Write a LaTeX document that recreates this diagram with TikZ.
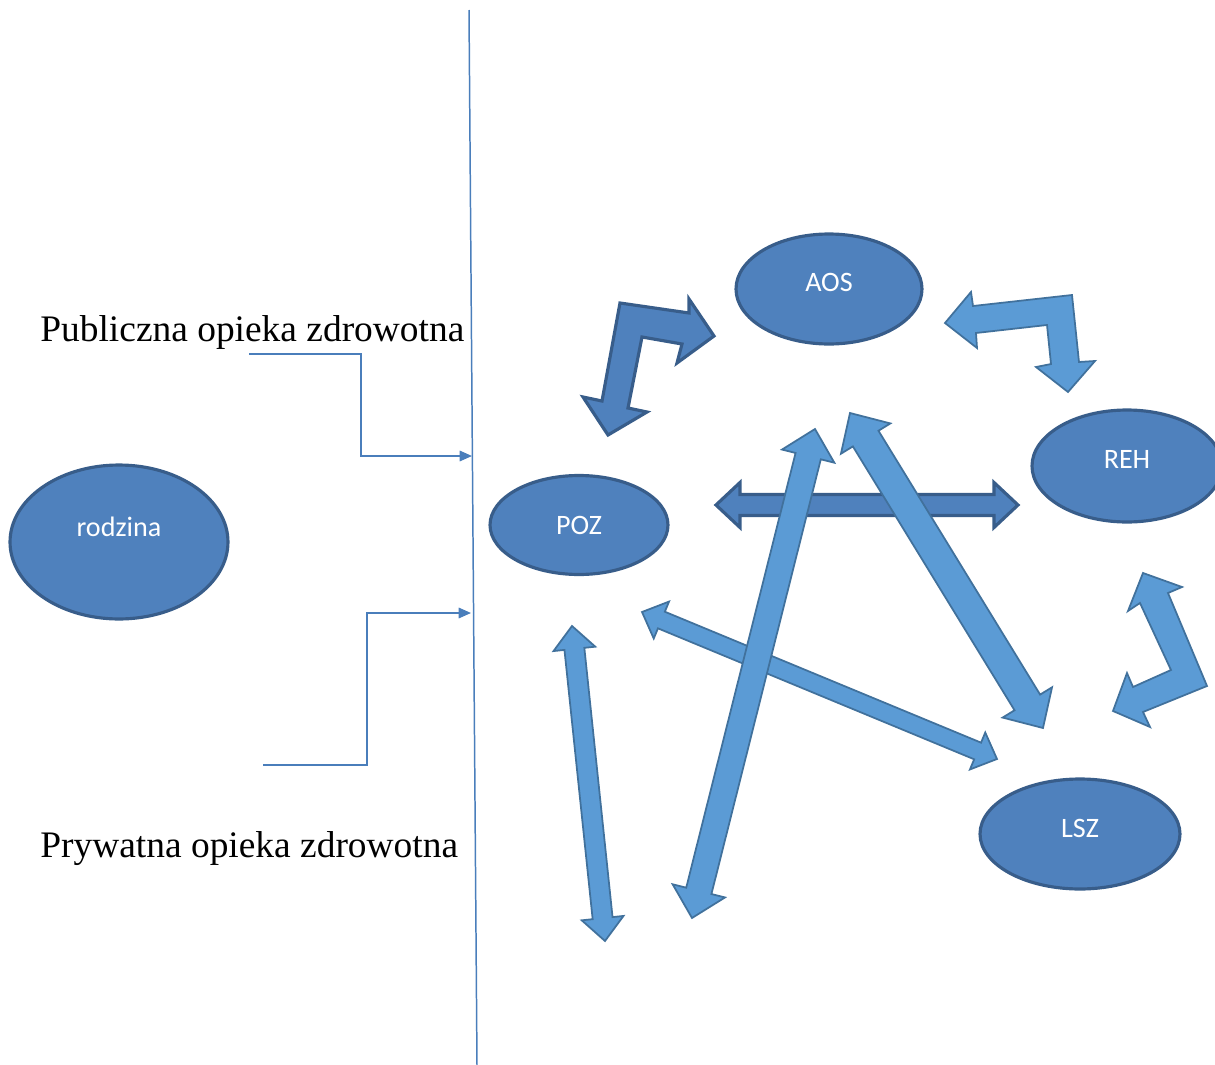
\documentclass[tikz,border=0pt]{standalone}
\usepackage{fontspec}
\setmainfont{Liberation Serif}
\newfontfamily\unitfont{Carlito}
\usetikzlibrary{calc}
\usetikzlibrary{shapes.geometric}
\usetikzlibrary{arrows.meta}
\definecolor{unitfill}{HTML}{4F81BD}
\definecolor{unitline}{HTML}{385D8A}
\definecolor{arrowfill}{HTML}{5B9BD5}
\definecolor{arrowline}{HTML}{41719C}
\definecolor{divline}{HTML}{4A7EBB}
\tikzset{%
    unit/.style={shape=ellipse,inner sep=0pt,outer sep=0pt,draw=unitline,fill=unitfill,line width=1.8pt,text=white,font=\unitfont\fontsize{16}{19}\selectfont},
    light arrow/.style={draw=arrowline,fill=arrowfill,line width=1pt,line join=miter},
    dark arrow/.style={draw=unitline,fill=unitfill,line width=1.8pt,line join=miter},
    divider/.style={draw=divline,line width=0.85pt},
    sector link/.style={draw=divline,line width=0.85pt,-{Triangle[length=7pt,width=6pt]}},
    sector label/.style={anchor=base west,inner sep=0pt,font=\fontsize{21.3}{25}\selectfont},
}
% #2,#3 tips, #4 half shaft, #5 half head, #6 head length
\newcommand{\dblarrow}[6][light arrow]{%
    \draw[#1] ($(#2)!#6!(#3)!#4!90:(#3)$) -- ($(#2)!#6!(#3)!#5!90:(#3)$) -- (#2)
        -- ($(#2)!#6!(#3)!#5!-90:(#3)$) -- ($(#2)!#6!(#3)!#4!-90:(#3)$)
        -- ($(#3)!#6!(#2)!#4!90:(#2)$) -- ($(#3)!#6!(#2)!#5!90:(#2)$) -- (#3)
        -- ($(#3)!#6!(#2)!#5!-90:(#2)$) -- ($(#3)!#6!(#2)!#4!-90:(#2)$) -- cycle;}

\begin{document}
\begin{tikzpicture}[x=0.02cm,y=-0.02cm]
        \useasboundingbox (0,0) rectangle (1215,1065);

        \coordinate (divTop) at (469,10);
        \coordinate (divBottom) at (477,1065);
        \draw[divider] (divTop) -- (divBottom);

        \node[sector label] (publiczna) at (40,341) {Publiczna opieka zdrowotna};
        \node[sector label] (prywatna) at (40,857) {Prywatna opieka zdrowotna};

        \coordinate (pubStart) at (249,354);
        \coordinate (pubEnd) at (472,456);
        \draw[sector link] (pubStart) -| ($(pubEnd)+(-111,0)$) -- (pubEnd);
        \coordinate (prvStart) at (263,765);
        \coordinate (prvEnd) at (471,613);
        \draw[sector link] (prvStart) -| ($(prvEnd)+(-104,0)$) -- (prvEnd);

        \node[unit,minimum width=4.36cm,minimum height=3.08cm,text depth=0.6cm] (rodzina) at (119,542) {rodzina};
        \node[unit,minimum width=3.72cm,minimum height=2.2cm,text depth=0.28cm] (aos) at (829,289) {AOS};
        \node[unit,minimum width=3.8cm,minimum height=2.24cm,text depth=0.28cm] (reh) at (1127,466) {REH};
        \node[unit,minimum width=3.56cm,minimum height=1.98cm] (poz) at (579,525) {POZ};
        \node[unit,minimum width=4cm,minimum height=2.2cm,text depth=0.24cm] (lsz) at (1080,834) {LSZ};

        \coordinate (H1) at (716,505);
        \coordinate (H2) at (1018,505);
        \dblarrow[dark arrow]{H1}{H2}{0.21cm}{0.45cm}{0.48cm}

        \coordinate (P1) at (642,612);
        \coordinate (P2) at (997,759);
        \dblarrow{P1}{P2}{0.18cm}{0.4cm}{0.42cm}

        \coordinate (L1) at (850,413);
        \coordinate (L2) at (1043,728);
        \dblarrow{L1}{L2}{0.3cm}{0.58cm}{0.6cm}

        \coordinate (S1) at (692,918);
        \coordinate (S2) at (815,429);
        \dblarrow{S1}{S2}{0.26cm}{0.54cm}{0.56cm}

        \coordinate (V1) at (572,626);
        \coordinate (V2) at (605,941);
        \dblarrow{V1}{V2}{0.2cm}{0.42cm}{0.46cm}

        \draw[dark arrow] (620,303) -- (689,313) -- (689,299) -- (714,336) -- (677,363) -- (682,344)
            -- (642,337) -- (628,408) -- (647,412) -- (608,435) -- (583,397) -- (602,401) -- cycle;
        \draw[light arrow] (945,323) -- (971,292) -- (973,306) -- (1072,295) -- (1079,362) -- (1095,361)
            -- (1068,392) -- (1036,367) -- (1051,364) -- (1047,325) -- (976,333) -- (977,348) -- cycle;
        \draw[light arrow] (1143,573) -- (1182,587) -- (1168,593) -- (1207,686) -- (1143,712) -- (1150,727)
            -- (1113,711) -- (1127,673) -- (1133,687) -- (1171,670) -- (1140,603) -- (1128,611) -- cycle;
\end{tikzpicture}
\end{document}
